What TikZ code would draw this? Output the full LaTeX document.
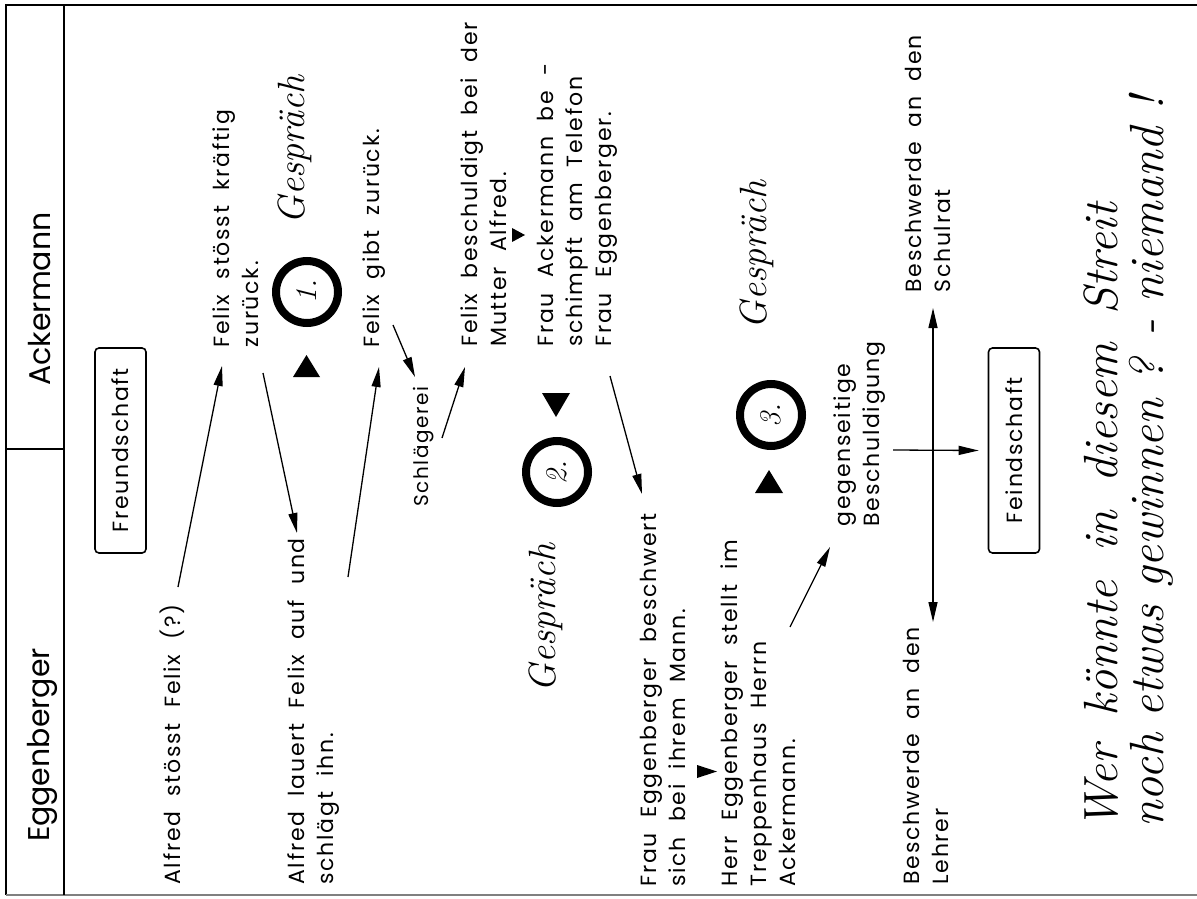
\documentclass[tikz,border=0pt]{standalone}
\usepackage{fontspec}
\usetikzlibrary{arrows.meta}
\newfontfamily\popfam{Poppins}[LetterSpace=8, WordSpace=2]
\newfontfamily\popplain{Poppins}
\newcommand\bodyf{\popfam\fontsize{11}{14.5}\selectfont}
\newcommand\smallf{\popfam\fontsize{10}{13}\selectfont}
\newcommand\headf{\popplain\fontsize{15}{18}\selectfont}
\newcommand\handf[1]{\normalfont\itshape\fontsize{#1}{#1}\selectfont}
\tikzset{
  txt/.style={rotate=90, anchor=north west, align=left, inner sep=0pt, font=\bodyf},
  hdr/.style={rotate=90, inner sep=0pt, font=\headf},
  boxed/.style={rotate=90, draw, line width=0.8pt, rounded corners=2pt,
    minimum width=102.5pt, minimum height=25.5pt, inner sep=0pt, font=\bodyf},
  ring/.style={circle, draw, line width=4pt, minimum size=31pt, inner sep=0pt,
    rotate=90, font=\handf{15}},
  hand/.style={rotate=90, inner sep=0pt},
  arr/.style={line width=0.65pt, -{Triangle[length=10pt,width=4.5pt]}},
  dbl/.style={line width=0.65pt, {Triangle[length=10pt,width=4.5pt]}-{Triangle[length=10pt,width=4.5pt]}},
  frame/.style={line width=1.2pt},
}
\begin{document}
\begin{tikzpicture}[x=0.5pt, y=-0.5pt]
\useasboundingbox (0,0) rectangle (1197,898);
% frame
\draw[frame] (1197,5) -- (6,5) -- (6,895);
\draw[gray, line width=1pt] (6,895) -- (1197,895);
\draw[frame] (64,5) -- (64,895);
\draw[frame] (6,449) -- (64,449);
% headers
\node[hdr] (ack) at (40,299) {Ackermann};
\node[hdr] (egg) at (42,745) {Eggenberger};
% boxes
\node[boxed] (freund) at (120.5,450.5) {Freundschaft};
\node[boxed] (feind) at (1014,450.5) {Feindschaft};
% texts
\node[txt] (t1) at (160,885) {Alfred stösst Felix (?)};
\node[txt] (t2) at (287,885) {Alfred lauert Felix auf und\\schlägt ihn.};
\node[txt] (t3) at (212,348) {Felix stösst kräftig\\zurück.};
\node[txt] (t4) at (362,348) {Felix gibt zurück.};
\node[txt, font=\smallf] (t5) at (413,507) {Schlägerei};
\node[txt] (t6) at (460,347) {Felix beschuldigt bei der\\Mutter Alfred.};
\node[txt] (t7) at (537,347) {Frau Ackermann be -\\schimpft am Telefon\\Frau Eggenberger.};
\node[txt] (t8) at (640,887) {Frau Eggenberger beschwert\\sich bei ihrem Mann.};
\node[txt] (t9) at (720,887) {Herr Eggenberger stellt im\\Treppenhaus Herrn\\Ackermann.};
\node[txt] (t10) at (833,527) {gegenseitige\\Beschuldigung};
\node[txt] (t11) at (905,293) {Beschwerde an den\\Schulrat};
\node[txt] (t12) at (903,885) {Beschwerde an den\\Lehrer};
% rings
\node[ring] (r1) at (307,292) {1.};
\node[ring] (r2) at (557,472) {2.};
\node[ring] (r3) at (771,415) {3.};
% Gespraech
\node[hand, font=\handf{19}] (g1) at (295,150) {Gespräch};
\node[hand, font=\handf{19}] (g2) at (546,618) {Gespräch};
\node[hand, font=\handf{19}] (g3) at (757,255) {Gespräch};
% final question
\node[hand, anchor=base west, font={\handf{24}\spaceskip=0.6em}] (w1) at (1117,830) {Wer könnte in diesem Streit};
\node[hand, anchor=base west, font=\handf{24}] (w2) at (1163,828) {noch etwas gewinnen ? - niemand !};
% triangles
\fill (293,377) -- (306.5,355) -- (320,377) -- cycle;
\fill (542,393) -- (570,393) -- (556,417) -- cycle;
\fill (755,493) -- (769,470) -- (783,493) -- cycle;
\fill (512,228) -- (525,235) -- (512,242) -- cycle;
\fill (697,765) -- (717,771.5) -- (697,778) -- cycle;
% connector ends
\coordinate (a0) at (178,587); \coordinate (a1) at (222,366);
\coordinate (b0) at (263,373); \coordinate (b1) at (297,533);
\coordinate (c0) at (348,577); \coordinate (c1) at (379,367);
\coordinate (d0) at (393,325); \coordinate (d1) at (415,377);
\coordinate (e0) at (442,438); \coordinate (e1) at (465,367);
\coordinate (f0) at (610,376); \coordinate (f1) at (642,494);
\coordinate (g0) at (790,627); \coordinate (gg1) at (830,547);
\coordinate (h0) at (893,450);
\coordinate (i0) at (933,308); \coordinate (i1) at (933,622);
\draw[arr] (a0) -- (a1);
\draw[arr] (b0) -- (b1);
\draw[arr] (c0) -- (c1);
\draw[arr] (d0) -- (d1);
\draw[arr] (e0) -- (e1);
\draw[arr] (f0) -- (f1);
\draw[arr] (g0) -- (gg1);
\draw[arr] (h0) -- ([xshift=-4.5pt]feind.north);
\draw[dbl] (i0) -- (i1);
\end{tikzpicture}
\end{document}
